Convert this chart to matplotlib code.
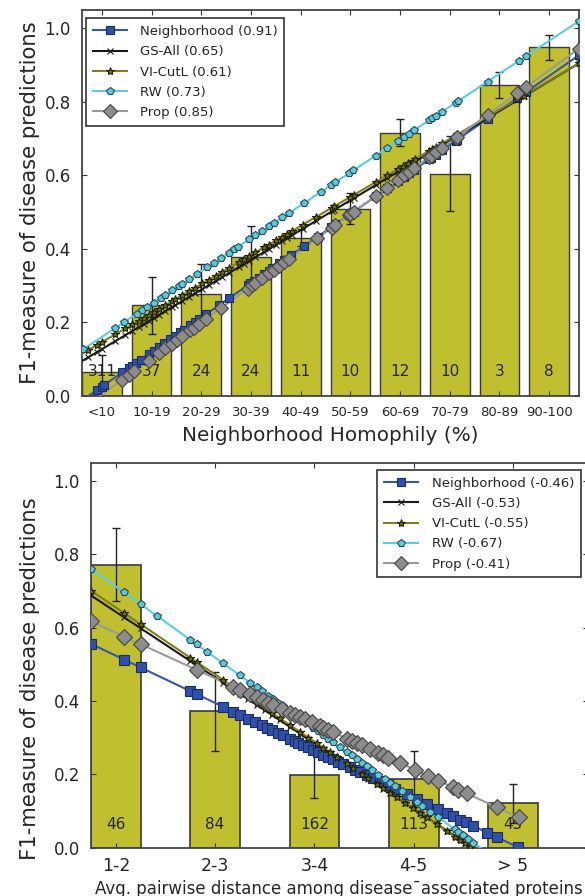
import matplotlib
matplotlib.use('Agg')
import matplotlib.pyplot as plt
import numpy as np

plt.rcParams['font.family'] = ['DejaVu Sans']

# ---------------- data: top panel ----------------
homophily_bins = ['<10', '10-19', '20-29', '30-39', '40-49', '50-59', '60-69', '70-79', '80-89', '90-100']
homophily_f1 = [0.064, 0.247, 0.277, 0.379, 0.431, 0.510, 0.716, 0.605, 0.845, 0.949]
homophily_err = [0.047, 0.077, 0.083, 0.084, 0.022, 0.042, 0.037, 0.103, 0.035, 0.034]
homophily_counts = [311, 37, 24, 24, 11, 10, 12, 10, 3, 8]

methods = ['Neighborhood', 'GS-All', 'VI-CutL', 'RW', 'Prop']
top_corr = ['0.91', '0.65', '0.61', '0.73', '0.85']
# fitted lines: F1 = intercept + slope * (homophily / 10)
top_fit_intercept = [-0.012, 0.095, 0.115, 0.125, -0.035]
top_fit_slope = [0.0939, 0.081, 0.079, 0.0895, 0.098]

# homophily (%) of the marked points on each fitted line
top_pts_neighborhood = [3.0, 4.0, 4.4, 8.1, 9.4, 10.1, 10.8, 11.8, 13.4, 14.4, 15.5, 16.5, 17.8, 18.8, 19.8, 20.5,
                        21.8, 22.8, 23.5, 24.9, 27.6, 29.6, 33.3, 33.9, 34.6, 35.6, 36.6, 37.6, 38.3, 39.7, 40.7,
                        42.0, 44.7, 47.4, 50.1, 51.0, 53.7, 54.0, 54.7, 59.1, 61.4, 63.6, 64.8, 65.8, 66.8, 69.8,
                        70.3, 71.2, 72.5, 75.2, 75.5, 81.6, 87.6, 89.3, 100.0]
top_pts_gsall = [1.3, 3.0, 4.0, 6.7, 8.7, 10.1, 11.4, 12.4, 13.4, 14.4, 15.5, 16.8, 18.1, 18.8, 20.2, 21.5, 22.8,
                 24.2, 25.5, 26.9, 28.2, 29.6, 31.6, 32.6, 33.6, 34.9, 36.6, 37.6, 39.0, 40.3, 41.3, 42.3, 44.4,
                 47.0, 50.3, 50.7, 54.0, 54.7, 59.1, 61.4, 63.5, 64.5, 65.5, 66.5, 67.1, 69.8, 70.5, 71.2, 72.5,
                 75.5, 87.6, 88.9, 100.0]
top_pts_vicutl = top_pts_gsall
top_pts_rw = [0.3, 6.7, 8.4, 11.1, 12.1, 13.1, 14.4, 15.8, 16.8, 18.1, 19.5, 20.2, 21.5, 23.2, 25.2, 26.5, 27.9,
              29.6, 30.6, 31.3, 33.6, 34.9, 36.3, 37.6, 38.6, 40.3, 41.7, 44.7, 48.1, 50.1, 51.0, 53.7, 54.6,
              59.1, 61.4, 63.6, 64.8, 65.8, 66.9, 69.8, 70.5, 71.2, 72.5, 75.2, 75.7, 81.6, 87.9, 89.3, 100.0]
top_pts_prop = [8.1, 9.4, 10.4, 13.4, 15.5, 16.8, 18.1, 19.2, 20.2, 21.8, 22.5, 23.5, 24.9, 27.9, 33.3, 34.3,
                34.9, 36.3, 37.6, 38.6, 39.7, 40.7, 41.7, 47.3, 50.3, 51.0, 53.7, 54.0, 54.7, 59.1, 61.4, 63.6,
                64.8, 65.8, 66.8, 69.8, 70.3, 71.2, 72.5, 75.2, 75.5, 81.6, 87.6, 89.3, 100.0]
top_pts = [top_pts_neighborhood, top_pts_gsall, top_pts_vicutl, top_pts_rw, top_pts_prop]

# ---------------- data: bottom panel ----------------
distance_bins = ['1-2', '2-3', '3-4', '4-5', '> 5']
distance_f1 = [0.772, 0.372, 0.199, 0.188, 0.121]
distance_err = [0.100, 0.107, 0.063, 0.077, 0.053]
distance_counts = [46, 84, 162, 113, 45]

bottom_corr = ['-0.46', '-0.53', '-0.55', '-0.67', '-0.41']
# fitted lines: F1 = intercept + slope * (distance - 1)
bottom_fit_intercept = [0.556, 0.688, 0.701, 0.761, 0.617]
bottom_fit_slope = [-0.129, -0.179, -0.183, -0.194, -0.124]

bot_pts_neighborhood = [0.0, 0.332, 0.5, 0.997, 1.064, 1.333, 1.433, 1.5, 1.584, 1.652, 1.719, 1.769, 1.819,
                        1.887, 1.937, 2.004, 2.054, 2.088, 2.138, 2.189, 2.239, 2.289, 2.340, 2.390, 2.440,
                        2.491, 2.541, 2.608, 2.659, 2.709, 2.776, 2.843, 2.910, 2.994, 3.061, 3.179, 3.280,
                        3.380, 3.498, 3.582, 3.649, 3.716, 3.776, 3.844, 3.991, 4.092, 4.303]
bot_pts_gsall = [0.0, 0.332, 0.5, 0.997, 1.064, 1.333, 1.5, 1.584, 1.668, 1.752, 1.819, 1.903, 2.004, 2.105,
                 2.189, 2.273, 2.340, 2.407, 2.474, 2.575, 2.642, 2.726, 2.793, 2.877, 2.944, 3.011, 3.078,
                 3.162, 3.246, 3.313, 3.380, 3.481, 3.582, 3.666, 3.716, 3.766, 3.817]
bot_pts_vicutl = bot_pts_gsall
bot_pts_rw = [0.0, 0.332, 0.5, 0.668, 0.997, 1.064, 1.165, 1.333, 1.5, 1.601, 1.668, 1.719, 1.786, 1.836,
              1.887, 1.937, 2.004, 2.038, 2.105, 2.172, 2.239, 2.289, 2.340, 2.390, 2.440, 2.508, 2.575,
              2.625, 2.675, 2.726, 2.776, 2.826, 2.894, 2.961, 3.011, 3.061, 3.129, 3.213, 3.280, 3.330,
              3.414, 3.498, 3.666, 3.699, 3.750, 3.800, 3.850]
bot_pts_prop = [0.0, 0.332, 0.5, 1.064, 1.433, 1.5, 1.601, 1.668, 1.736, 1.786, 1.836, 1.920, 2.004, 2.054,
                2.105, 2.155, 2.222, 2.306, 2.340, 2.390, 2.440, 2.575, 2.625, 2.675, 2.726, 2.810, 2.894,
                2.944, 2.994, 3.112, 3.263, 3.397, 3.498, 3.649, 3.699, 3.783, 4.085, 4.307]
bot_pts = [bot_pts_neighborhood, bot_pts_gsall, bot_pts_vicutl, bot_pts_rw, bot_pts_prop]

# ---------------- styles ----------------
line_colors = ['#3656a8', '#1a1a1a', '#7f7f1f', '#5ccde0', '#9a9a9a']
marker_styles = ['s', 'x', '*', 'p', 'D']
marker_faces = ['#2f50a8', '#1a1a1a', '#6b6b10', '#5bc8dc', '#8c8c8c']
marker_edges = ['#1c2c60', '#1a1a1a', '#222200', '#2a4a58', '#444444']
marker_sizes_top = [6, 5, 6, 6, 7]
marker_sizes_bot = [7, 5, 6, 6, 8]
bar_color = '#bfbf30'
bar_edge = '#3a3a3a'
text_color = '#262626'

W, H = 585, 896
fig = plt.figure(figsize=(W / 100, H / 100), dpi=100)


def style_axes(ax):
    for s in ax.spines.values():
        s.set_linewidth(1.3)
        s.set_color('#444444')
    ax.tick_params(direction='in', top=True, right=True, length=3.5, width=0.8, colors='#333333',
                   labelcolor=text_color)


# ================= top panel =================
ax1 = fig.add_axes([82 / W, 1 - 396 / H, (579 - 82) / W, 386 / H])
xb = np.arange(len(homophily_bins))
ax1.bar(xb, homophily_f1, width=0.8, align='edge', color=bar_color, edgecolor=bar_edge, linewidth=1.0, zorder=1)
ax1.errorbar(xb + 0.4, homophily_f1, yerr=homophily_err, fmt='none', ecolor='#222222', elinewidth=1.0,
             capsize=3, capthick=1.0, zorder=2)
for xi, c in zip(xb, homophily_counts):
    ax1.text(xi + 0.4, 0.066, str(c), ha='center', va='center', fontsize=11, color=text_color, zorder=2)

xx_top = np.array([0.0, 10.0])
for k, m in enumerate(methods):
    a, b = top_fit_intercept[k], top_fit_slope[k]
    ax1.plot(xx_top, a + b * xx_top, color=line_colors[k], lw=1.5, zorder=3)
    px = np.array(top_pts[k]) / 10.0
    ax1.plot(px, a + b * px, linestyle='none', marker=marker_styles[k], ms=marker_sizes_top[k],
             mfc=marker_faces[k], mec=marker_edges[k], mew=0.8, zorder=4)
    ax1.plot([], [], color=line_colors[k], lw=1.5, marker=marker_styles[k], ms=marker_sizes_top[k],
             mfc=marker_faces[k], mec=marker_edges[k], mew=0.8, label=f'{m} ({top_corr[k]})')

ax1.set_xlim(0, 10)
ax1.set_ylim(0, 1.05)
ax1.set_xticks(xb + 0.4)
ax1.set_xticklabels(homophily_bins, fontsize=9.5)
ax1.set_yticks([0.0, 0.2, 0.4, 0.6, 0.8, 1.0])
ax1.set_yticklabels(['0.0', '0.2', '0.4', '0.6', '0.8', '1.0'], fontsize=12)
style_axes(ax1)
ax1.tick_params(axis='x', pad=7)
ax1.tick_params(axis='y', pad=8)
ax1.set_xlabel('Neighborhood Homophily (%)', fontsize=14.4, color=text_color, labelpad=5)
ax1.set_ylabel('F1-measure of disease predictions', fontsize=15.2, color=text_color)
ax1.yaxis.set_label_coords(-0.084, 0.5)
leg1 = ax1.legend(loc='upper left', bbox_to_anchor=(0.008, 0.978), borderaxespad=0, fontsize=9.5,
                  numpoints=1, handlelength=2.6, handletextpad=1.0, borderpad=0.5, labelspacing=0.55,
                  fancybox=False, framealpha=1)
leg1.get_frame().set_edgecolor('#333333')
leg1.get_frame().set_linewidth(1.2)
for t in leg1.get_texts():
    t.set_color(text_color)

# ================= bottom panel =================
ax2 = fig.add_axes([91 / W, 1 - 847.7 / H, 496.5 / W, 385 / H])
xd = np.arange(len(distance_bins))
ax2.bar(xd, distance_f1, width=0.5, align='edge', color=bar_color, edgecolor=bar_edge, linewidth=1.2, zorder=1)
ax2.errorbar(xd + 0.25, distance_f1, yerr=distance_err, fmt='none', ecolor='#222222', elinewidth=1.0,
             capsize=3, capthick=1.0, zorder=2)
for xi, c in zip(xd, distance_counts):
    ax2.text(xi + 0.25, 0.064, str(c), ha='center', va='center', fontsize=11, color=text_color, zorder=2)

xx_bot = np.array([0.0, max(max(p) for p in bot_pts)])
for k, m in enumerate(methods):
    a, b = bottom_fit_intercept[k], bottom_fit_slope[k]
    ax2.plot(xx_bot, a + b * xx_bot, color=line_colors[k], lw=1.5, zorder=3)
    px = np.array(bot_pts[k])
    ax2.plot(px, a + b * px, linestyle='none', marker=marker_styles[k], ms=marker_sizes_bot[k],
             mfc=marker_faces[k], mec=marker_edges[k], mew=0.8, zorder=4)
    ax2.plot([], [], color=line_colors[k], lw=1.5, marker=marker_styles[k], ms=marker_sizes_top[k],
             mfc=marker_faces[k], mec=marker_edges[k], mew=0.8, label=f'{m} ({bottom_corr[k]})')

ax2.set_xlim(0, 5)
ax2.set_ylim(0, 1.05)
ax2.set_xticks(xd + 0.25)
ax2.set_xticklabels(distance_bins, fontsize=12.5)
ax2.set_yticks([0.0, 0.2, 0.4, 0.6, 0.8, 1.0])
ax2.set_yticklabels(['0.0', '0.2', '0.4', '0.6', '0.8', '1.0'], fontsize=12)
style_axes(ax2)
ax2.tick_params(axis='x', pad=7)
ax2.tick_params(axis='y', pad=8)
ax2.set_xlabel('Avg. pairwise distance among disease\u00afassociated proteins', fontsize=12, color=text_color,
               labelpad=3)
ax2.set_ylabel('F1-measure of disease predictions', fontsize=15.2, color=text_color)
ax2.yaxis.set_label_coords(-0.102, 0.44)
leg2 = ax2.legend(loc='upper right', bbox_to_anchor=(0.986, 0.981), borderaxespad=0, fontsize=9.5,
                  numpoints=1, handlelength=2.6, handletextpad=1.0, borderpad=0.5, labelspacing=0.55,
                  fancybox=False, framealpha=1)
leg2.get_frame().set_edgecolor('#333333')
leg2.get_frame().set_linewidth(1.2)
for t in leg2.get_texts():
    t.set_color(text_color)

fig.savefig('out.png', dpi=100)
